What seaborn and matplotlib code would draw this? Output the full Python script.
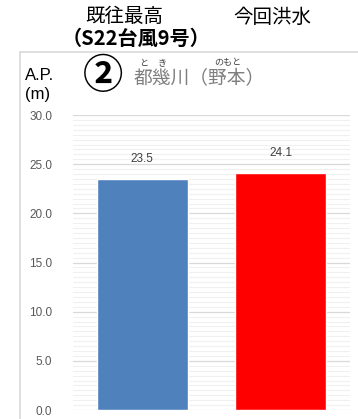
import matplotlib
matplotlib.use("Agg")
import matplotlib.pyplot as plt
from matplotlib.lines import Line2D
from matplotlib.ticker import MultipleLocator
import seaborn as sns
import pandas as pd

# --- data ---
categories = ["既往最高", "今回洪水"]
subtitles = ["（S22台風9号）", ""]
water_levels = [23.5, 24.1]
bar_colors = ["#4F81BD", "#FF0000"]
y_ticks = [0.0, 5.0, 10.0, 15.0, 20.0, 25.0, 30.0]
station_no = "②"
station_name = "都幾川（野本）"
unit_label = "A.P.\n(m)"

sns.set_theme(style="white")
plt.rcParams["font.family"] = ["Liberation Sans", "Noto Sans CJK JP", "DejaVu Sans"]
JP = ["Noto Sans CJK JP", "DejaVu Sans"]

W, H = 358, 419
fig = plt.figure(figsize=(W / 100, H / 100), dpi=100)
fig.patch.set_facecolor("white")


def fx(px):
    return px / W


def fy(py):
    return 1 - py / H


ax = fig.add_axes([fx(73), fy(410), fx(350) - fx(73), fy(115) - fy(410)])

df = pd.DataFrame({"category": categories, "level": water_levels})
sns.barplot(data=df, x="category", y="level", hue="category",
            palette=bar_colors, width=0.66, legend=False, ax=ax,
            saturation=1, zorder=3)

ax.set_xlim(-0.5, 1.5)
ax.set_ylim(0, 30)
ax.set_yticks(y_ticks)
ax.set_yticklabels([f"{v:.1f}" for v in y_ticks])
ax.yaxis.set_minor_locator(MultipleLocator(0.5))
ax.grid(axis="y", which="major", color="#D9D9D9", linewidth=0.9, zorder=0)
ax.grid(axis="y", which="minor", color="#F0F0F0", linewidth=0.8, zorder=0)
ax.set_axisbelow(True)
ax.tick_params(axis="y", which="both", length=0, pad=15, labelsize=8.5,
               labelcolor="#595959")
ax.tick_params(axis="x", length=0, labelbottom=False)
ax.set_xlabel("")
ax.set_ylabel("")
for s in ax.spines.values():
    s.set_visible(False)

# value labels above the bars
for i, v in enumerate(water_levels):
    ax.annotate(f"{v:.1f}", xy=(i, v), xytext=(0, 10), textcoords="offset points",
                ha="center", va="bottom", fontsize=8.5, color="#404040")

# outer chart frame (top and left edges)
frame_col = "#D9D9D9"
fig.add_artist(Line2D([fx(20), 1.0], [fy(52), fy(52)], color=frame_col, lw=1.2))
fig.add_artist(Line2D([fx(20), fx(20)], [fy(52), 0.0], color=frame_col, lw=1.2))

# column headings above the frame
heading_x = [124, 272]
for i, cat in enumerate(categories):
    fig.text(fx(heading_x[i]), fy(17), cat, ha="center", va="center",
             fontsize=14, family=JP, color="#000000")
fig.text(fx(136), fy(38), subtitles[0], ha="center", va="center",
         fontsize=14.5, family=JP, fontweight="bold", color="#000000")

# unit label, station number and station name
fig.text(fx(25), fy(85), unit_label, ha="left", va="center", fontsize=12,
         color="#000000", linespacing=1.25)
fig.text(fx(103), fy(77), station_no, ha="center", va="center", fontsize=29,
         family=JP, fontweight="bold", color="#000000")
fig.text(fx(199), fy(79), station_name, ha="center", va="center", fontsize=13.5,
         family=JP, color="#7F7F7F")
# reading aids (furigana)
fig.text(fx(144), fy(63), "と", ha="center", va="center", fontsize=6.5,
         family=JP, color="#404040")
fig.text(fx(162), fy(63), "き", ha="center", va="center", fontsize=6.5,
         family=JP, color="#404040")
fig.text(fx(228), fy(63), "のもと", ha="center", va="center", fontsize=6.5,
         family=JP, color="#404040")

fig.savefig("out.png", dpi=100)
